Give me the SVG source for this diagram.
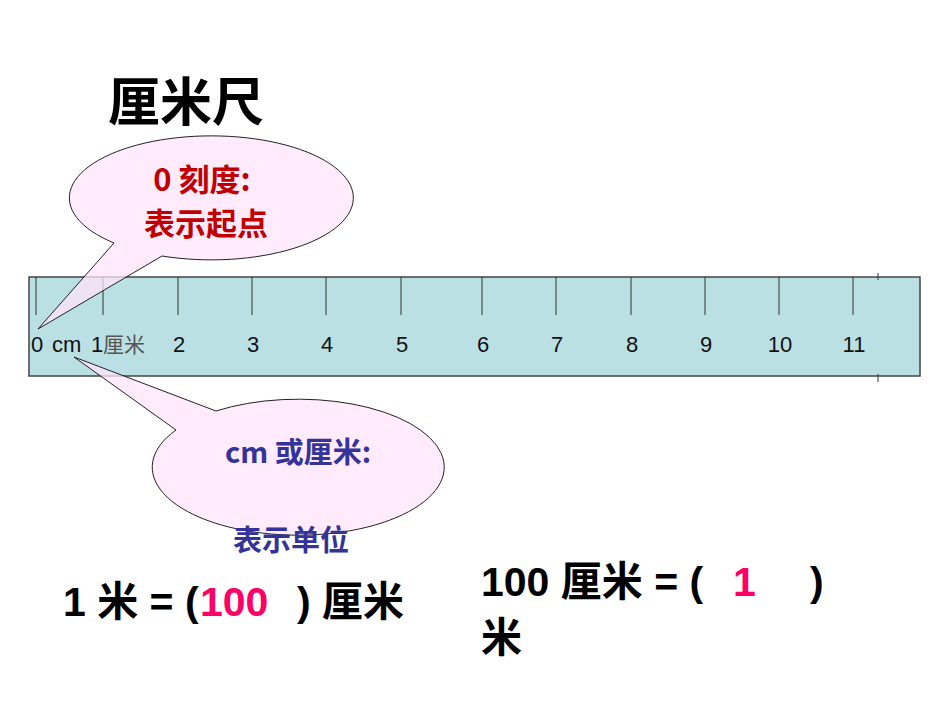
<svg xmlns="http://www.w3.org/2000/svg" width="950" height="713" viewBox="0 0 950 713">
<style>
.tk{stroke:#333;stroke-width:1}
.n{font-family:"Liberation Sans",sans-serif;font-size:22px;fill:#111;text-anchor:middle}
.bub{fill:#ffe4fb;fill-opacity:0.75;stroke:#222;stroke-width:1}
.big{font-family:"Liberation Sans","Noto Sans CJK SC",sans-serif;font-size:41px;font-weight:bold;fill:#000}
.c1{font-family:"Noto Sans CJK SC",serif;font-size:31px;font-weight:bold;fill:#c00000;text-anchor:middle}
.c2{font-family:"Noto Sans CJK SC",serif;font-size:29px;font-weight:bold;fill:#333399;text-anchor:middle}
</style>
<rect width="950" height="713" fill="#fff"/>
<text x="108" y="121" font-family="'Noto Sans CJK SC',sans-serif" font-size="52" font-weight="bold">厘米尺</text>
<g id="ruler">
<rect x="29" y="277" width="891" height="99" fill="#bbe0e3" stroke="#444" stroke-width="1.5"/>
<path class="tk" d="M36 277V315M103 277V315M178 277V315M252 277V315M326 277V315M401 277V315M482 277V315M556 277V315M631 277V315M705 277V315M779 277V315M853 277V315M878 273V280M878 374V382"/>
<text class="n" x="37" y="352">0</text>
<text x="52" y="352" font-family="'Liberation Sans',sans-serif" font-size="22" fill="#111">cm</text>
<text x="91" y="352" font-family="'Liberation Sans',sans-serif" font-size="22" fill="#111">1</text>
<text x="103" y="352" font-family="'Noto Sans CJK SC',sans-serif" font-size="21" fill="#555">厘米</text>
<text class="n" x="179" y="352">2</text><text class="n" x="253" y="352">3</text><text class="n" x="327" y="352">4</text><text class="n" x="402" y="352">5</text><text class="n" x="483" y="352">6</text><text class="n" x="557" y="352">7</text><text class="n" x="632" y="352">8</text><text class="n" x="706" y="352">9</text><text class="n" x="780" y="352">10</text><text class="n" x="854" y="352">11</text>
</g>
<g id="callout1">
<path class="bub" d="M114 243 L38 329 L162 256 A142 62 0 1 0 114 243 Z"/>
<text class="c1" x="202" y="191">0 刻度:</text>
<text class="c1" x="206" y="235">表示起点</text>
</g>
<g id="callout2">
<path class="bub" d="M216 411 L74 357 L176 430 A146 68 0 1 0 216 411 Z"/>
<text class="c2" x="298" y="463">cm 或厘米:</text>
<text class="c2" x="291" y="551">表示单位</text>
</g>
<text class="big" x="63" y="616">1 米 = (</text>
<text class="big" x="200" y="616" style="fill:#ff0066">100</text>
<text class="big" x="297" y="616">) 厘米</text>
<text class="big" x="481" y="596">100 厘米 = (</text>
<text class="big" x="733" y="596" style="fill:#ff0066">1</text>
<text class="big" x="810" y="596">)</text>
<text class="big" x="481" y="652">米</text>
</svg>
